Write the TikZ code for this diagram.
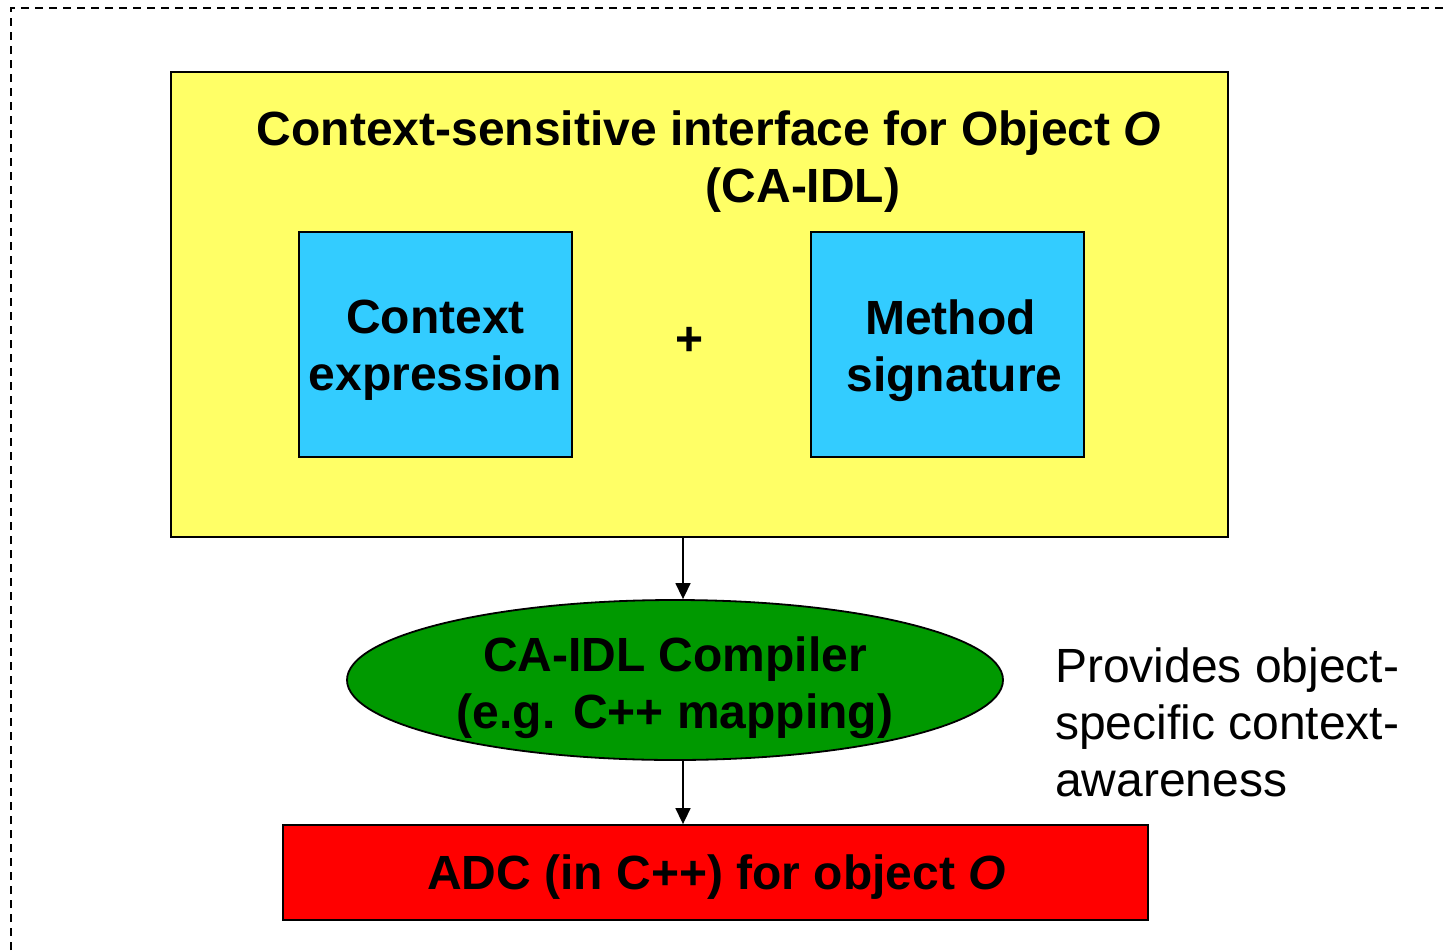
\documentclass[tikz,border=0pt]{standalone}
\usepackage{fontspec}
\setmainfont{Liberation Sans}
\usetikzlibrary{shapes.geometric,arrows.meta}
\definecolor{boxyellow}{HTML}{FFFF66}
\definecolor{boxblue}{HTML}{33CCFF}
\definecolor{boxgreen}{HTML}{009900}
\definecolor{boxred}{HTML}{FF0000}
\tikzset{
  big/.style={font=\fontsize{48}{57}\selectfont},
  bigbold/.style={font=\fontsize{48}{57}\selectfont\bfseries},
  panel/.style={draw=black, line width=1.8pt, rectangle, inner sep=0pt},
  arr/.style={line width=1.5pt, -{Triangle[length=16pt,width=15pt]}},
}
\begin{document}
\begin{tikzpicture}[x=1pt,y=-1pt]
  \useasboundingbox (0,0) rectangle (1445,950);
  % dashed frame (runs off the right and bottom edges)
  \draw[line width=1.5pt, dash pattern=on 8pt off 6pt] (11,950) -- (11,8) -- (1445,8);

  % outer interface box
  \node[panel, fill=boxyellow, minimum width=1057pt, minimum height=465pt] (yel) at (699.5,304.5) {};
  \node[bigbold, anchor=base] (t1) at (709,145) {Context-sensitive interface for Object \textit{O}};
  \node[bigbold, anchor=base] (t2) at (803,202) {(CA-IDL)};

  % the two parts
  \node[panel, fill=boxblue, minimum width=273pt, minimum height=225pt] (ctx) at (435.5,344.5) {};
  \node[bigbold, align=center] (ctxt) at ([yshift=-6pt]ctx.center) {Context\\expression};
  \node[panel, fill=boxblue, minimum width=273pt, minimum height=225pt] (sig) at (947.5,344.5) {};
  \node[bigbold, align=center] (sigt) at ([xshift=3pt,yshift=-6pt]sig.center) {Method\\\hspace*{8pt}signature};
  \node[bigbold] (plus) at (690,341) {+};

  % compiler
  \node[ellipse, draw=black, line width=1.8pt, fill=boxgreen, minimum width=656pt, minimum height=160pt, inner sep=0pt] (ell) at (675,680) {};
  \node[bigbold, align=center] (ellt) at ([yshift=-8pt]ell.center) {CA-IDL Compiler\\(e.g. C++ mapping)};

  % generated code
  \node[panel, fill=boxred, minimum width=865pt, minimum height=95pt] (adc) at (715.5,872.5) {};
  \node[bigbold] (adct) at ([xshift=1pt,yshift=-5pt]adc.center) {ADC (in C++) for object \textit{O}};

  % side note
  \node[big, anchor=north west, align=left, inner sep=0pt] (note) at (1055,648) {Provides object-\\specific context-\\awareness};

  % connectors
  \coordinate (ax) at (683,0);
  \draw[arr] (yel.south -| ax) -- (ell.north -| ax);
  \draw[arr] (ell.south -| ax) -- (adc.north -| ax);
\end{tikzpicture}
\end{document}
